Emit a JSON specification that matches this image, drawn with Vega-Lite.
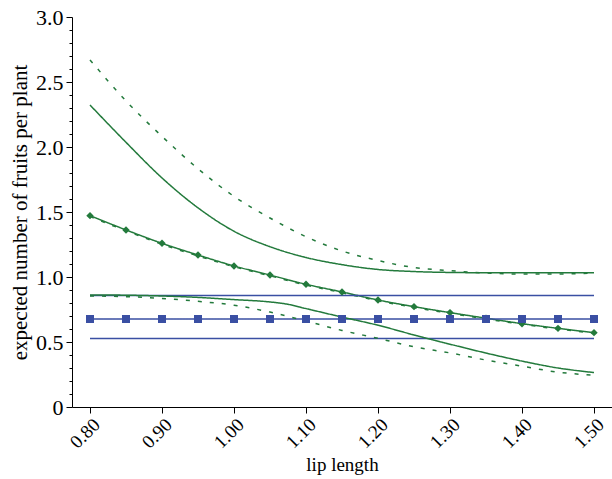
{
  "$schema": "https://vega.github.io/schema/vega-lite/v6.json",
  "autosize": "none",
  "width": 540,
  "height": 390,
  "padding": {"left": 72, "top": 17, "right": 0, "bottom": 72},
  "config": {
    "font": "Liberation Serif",
    "view": {"stroke": null},
    "axis": {
      "grid": false,
      "labelFont": "Liberation Serif",
      "titleFont": "Liberation Serif",
      "titleFontWeight": "normal",
      "labelColor": "#000",
      "titleColor": "#000",
      "domainColor": "#000",
      "tickColor": "#000",
      "domainWidth": 1,
      "tickWidth": 1
    }
  },
  "datasets": {
    "curves": [
      {"s": "A", "x": 0.80, "y": 2.670}, {"s": "A", "x": 0.85, "y": 2.354}, {"s": "A", "x": 0.90, "y": 2.082}, {"s": "A", "x": 0.95, "y": 1.833}, {"s": "A", "x": 1.00, "y": 1.620}, {"s": "A", "x": 1.05, "y": 1.454}, {"s": "A", "x": 1.10, "y": 1.310}, {"s": "A", "x": 1.15, "y": 1.200}, {"s": "A", "x": 1.20, "y": 1.127}, {"s": "A", "x": 1.25, "y": 1.073}, {"s": "A", "x": 1.30, "y": 1.049}, {"s": "A", "x": 1.35, "y": 1.031}, {"s": "A", "x": 1.40, "y": 1.023}, {"s": "A", "x": 1.45, "y": 1.023}, {"s": "A", "x": 1.50, "y": 1.031},
      {"s": "B", "x": 0.80, "y": 2.323}, {"s": "B", "x": 0.85, "y": 2.036}, {"s": "B", "x": 0.90, "y": 1.762}, {"s": "B", "x": 0.95, "y": 1.532}, {"s": "B", "x": 1.00, "y": 1.352}, {"s": "B", "x": 1.05, "y": 1.233}, {"s": "B", "x": 1.10, "y": 1.150}, {"s": "B", "x": 1.15, "y": 1.095}, {"s": "B", "x": 1.20, "y": 1.058}, {"s": "B", "x": 1.25, "y": 1.042}, {"s": "B", "x": 1.30, "y": 1.035}, {"s": "B", "x": 1.35, "y": 1.033}, {"s": "B", "x": 1.40, "y": 1.033}, {"s": "B", "x": 1.45, "y": 1.033}, {"s": "B", "x": 1.50, "y": 1.033},
      {"s": "C", "x": 0.80, "y": 1.472}, {"s": "C", "x": 0.85, "y": 1.362}, {"s": "C", "x": 0.90, "y": 1.259}, {"s": "C", "x": 0.95, "y": 1.169}, {"s": "C", "x": 1.00, "y": 1.085}, {"s": "C", "x": 1.05, "y": 1.015}, {"s": "C", "x": 1.10, "y": 0.944}, {"s": "C", "x": 1.15, "y": 0.885}, {"s": "C", "x": 1.20, "y": 0.823}, {"s": "C", "x": 1.25, "y": 0.772}, {"s": "C", "x": 1.30, "y": 0.726}, {"s": "C", "x": 1.35, "y": 0.683}, {"s": "C", "x": 1.40, "y": 0.641}, {"s": "C", "x": 1.45, "y": 0.605}, {"s": "C", "x": 1.50, "y": 0.572},
      {"s": "D", "x": 0.80, "y": 1.466}, {"s": "D", "x": 0.85, "y": 1.355}, {"s": "D", "x": 0.90, "y": 1.252}, {"s": "D", "x": 0.95, "y": 1.162}, {"s": "D", "x": 1.00, "y": 1.079}, {"s": "D", "x": 1.05, "y": 1.009}, {"s": "D", "x": 1.10, "y": 0.938}, {"s": "D", "x": 1.15, "y": 0.879}, {"s": "D", "x": 1.20, "y": 0.817}, {"s": "D", "x": 1.25, "y": 0.766}, {"s": "D", "x": 1.30, "y": 0.720}, {"s": "D", "x": 1.35, "y": 0.677}, {"s": "D", "x": 1.40, "y": 0.636}, {"s": "D", "x": 1.45, "y": 0.600}, {"s": "D", "x": 1.50, "y": 0.568},
      {"s": "E", "x": 0.80, "y": 0.857}, {"s": "E", "x": 1.50, "y": 0.857},
      {"s": "F", "x": 0.80, "y": 0.677}, {"s": "F", "x": 0.85, "y": 0.677}, {"s": "F", "x": 0.90, "y": 0.677}, {"s": "F", "x": 0.95, "y": 0.677}, {"s": "F", "x": 1.00, "y": 0.677}, {"s": "F", "x": 1.05, "y": 0.677}, {"s": "F", "x": 1.10, "y": 0.677}, {"s": "F", "x": 1.15, "y": 0.677}, {"s": "F", "x": 1.20, "y": 0.677}, {"s": "F", "x": 1.25, "y": 0.677}, {"s": "F", "x": 1.30, "y": 0.677}, {"s": "F", "x": 1.35, "y": 0.677}, {"s": "F", "x": 1.40, "y": 0.677}, {"s": "F", "x": 1.45, "y": 0.677}, {"s": "F", "x": 1.50, "y": 0.677},
      {"s": "G", "x": 0.80, "y": 0.526}, {"s": "G", "x": 1.50, "y": 0.526},
      {"s": "H", "x": 0.80, "y": 0.862}, {"s": "H", "x": 0.85, "y": 0.860}, {"s": "H", "x": 0.90, "y": 0.854}, {"s": "H", "x": 0.95, "y": 0.843}, {"s": "H", "x": 1.00, "y": 0.826}, {"s": "H", "x": 1.05, "y": 0.808}, {"s": "H", "x": 1.075, "y": 0.790}, {"s": "H", "x": 1.10, "y": 0.757}, {"s": "H", "x": 1.15, "y": 0.692}, {"s": "H", "x": 1.20, "y": 0.629}, {"s": "H", "x": 1.25, "y": 0.554}, {"s": "H", "x": 1.30, "y": 0.483}, {"s": "H", "x": 1.35, "y": 0.415}, {"s": "H", "x": 1.40, "y": 0.353}, {"s": "H", "x": 1.45, "y": 0.300}, {"s": "H", "x": 1.50, "y": 0.265},
      {"s": "I", "x": 0.80, "y": 0.854}, {"s": "I", "x": 0.85, "y": 0.849}, {"s": "I", "x": 0.90, "y": 0.835}, {"s": "I", "x": 0.95, "y": 0.813}, {"s": "I", "x": 1.00, "y": 0.783}, {"s": "I", "x": 1.05, "y": 0.730}, {"s": "I", "x": 1.10, "y": 0.661}, {"s": "I", "x": 1.15, "y": 0.589}, {"s": "I", "x": 1.20, "y": 0.528}, {"s": "I", "x": 1.25, "y": 0.463}, {"s": "I", "x": 1.30, "y": 0.416}, {"s": "I", "x": 1.35, "y": 0.361}, {"s": "I", "x": 1.40, "y": 0.314}, {"s": "I", "x": 1.45, "y": 0.268}, {"s": "I", "x": 1.50, "y": 0.245}
    ]
  },
  "data": {"name": "curves"},
  "layer": [
    {
      "mark": {"type": "line", "strokeWidth": 1.5, "interpolate": "monotone"},
      "encoding": {
        "x": {
          "field": "x", "type": "quantitative",
          "scale": {"domain": [0.775, 1.525], "nice": false, "zero": false},
          "axis": {
            "values": [0.8, 0.85, 0.9, 0.95, 1.0, 1.05, 1.1, 1.15, 1.2, 1.25, 1.3, 1.35, 1.4, 1.45, 1.5],
            "format": ".2f", "labelAngle": -45, "tickSize": 6, "labelPadding": 2,
            "labelFontSize": 19, "titleFontSize": 19,
            "title": "lip length", "titlePadding": 4
          }
        },
        "y": {
          "field": "y", "type": "quantitative",
          "scale": {"domain": [0, 3], "nice": false},
          "axis": {
            "values": [0, 0.5, 1, 1.5, 2, 2.5, 3],
            "labelExpr": "datum.value == 0 ? '0' : format(datum.value, '.1f')",
            "tickSize": 6, "labelPadding": 3,
            "labelFontSize": 22, "titleFontSize": 21,
            "title": "expected number of fruits per plant", "titlePadding": 5
          }
        },
        "color": {
          "field": "s", "type": "nominal", "legend": null,
          "scale": {"domain": ["A", "B", "C", "D", "E", "F", "G", "H", "I"],
                    "range": ["#237a3c", "#237a3c", "#237a3c", "#237a3c", "#3a4fa3", "#3a4fa3", "#3a4fa3", "#237a3c", "#237a3c"]}
        },
        "strokeDash": {
          "field": "s", "type": "nominal", "legend": null,
          "scale": {"domain": ["A", "B", "C", "D", "E", "F", "G", "H", "I"],
                    "range": [[4, 8], [1, 0], [1, 0], [4, 8], [1, 0], [1, 0], [1, 0], [1, 0], [4, 8]]}
        },
        "detail": {"field": "s"}
      }
    },
    {
      "transform": [{"filter": "datum.s == 'C'"}],
      "mark": {"type": "point", "shape": "diamond", "filled": true, "size": 55, "opacity": 1, "color": "#237a3c"},
      "encoding": {
        "x": {"field": "x", "type": "quantitative"},
        "y": {"field": "y", "type": "quantitative", "axis": null}
      }
    },
    {
      "transform": [{"filter": "datum.s == 'F'"}],
      "mark": {"type": "point", "shape": "square", "filled": true, "size": 64, "opacity": 1, "color": "#3a4fa3"},
      "encoding": {
        "x": {"field": "x", "type": "quantitative"},
        "y": {
          "field": "y", "type": "quantitative",
          "axis": {
            "orient": "left",
            "values": [0.1, 0.2, 0.3, 0.4, 0.6, 0.7, 0.8, 0.9, 1.1, 1.2, 1.3, 1.4, 1.6, 1.7, 1.8, 1.9, 2.1, 2.2, 2.3, 2.4, 2.6, 2.7, 2.8, 2.9],
            "labels": false, "domain": false, "tickSize": 3, "title": null
          }
        }
      }
    }
  ],
  "resolve": {"axis": {"y": "independent"}, "scale": {"y": "shared"}}
}
